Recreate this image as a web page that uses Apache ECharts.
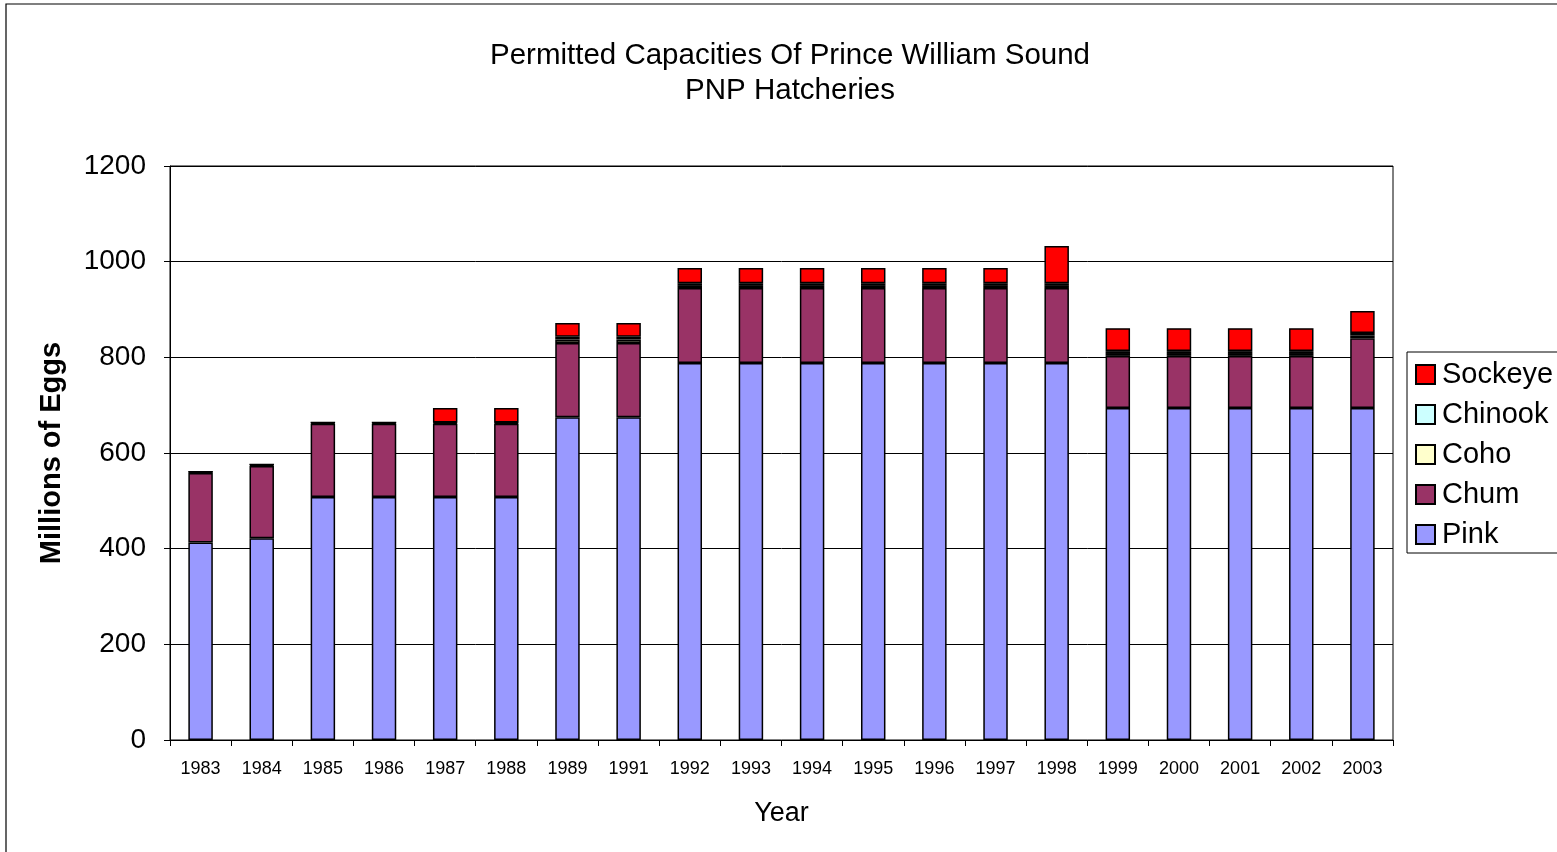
<!DOCTYPE html>
<html><head><meta charset="utf-8">
<script src="https://cdn.jsdelivr.net/npm/echarts@6/dist/echarts.min.js"></script>
<style>html,body{margin:0;padding:0;background:#fff}#c{width:1557px;height:852px}</style>
</head><body><div id="c"></div>
<script>
const years = ['1983','1984','1985','1986','1987','1988','1989','1991','1992','1993','1994','1995','1996','1997','1998','1999','2000','2001','2002','2003'];
const pink    = [413,422,508,508,508,508,675,675,788,788,788,788,788,788,788,694,694,694,694,694];
const chum    = [145,151,153,153,153,153,155,155,157,157,157,157,157,157,157,109,109,109,109,146];
const coho    = [2,2,2,2,2,2,7,7,6,6,6,6,6,6,6,6,6,6,6,6];
const chinook = [1,1,1,1,1,1,6,6,4,4,4,4,4,4,4,4,4,4,4,5];
const sockeye = [0,0,0,0,30,30,29,29,32,32,32,32,32,32,78,48,48,48,48,46];
const yTicks = [0,200,400,600,800,1000,1200];

const chart = echarts.init(document.getElementById('c'));
const mk = (name, data, color) => ({
  name, type:'bar', stack:'t', data, barWidth:'40%',
  itemStyle:{color, borderColor:'#000', borderWidth:1.5},
  emphasis:{disabled:true}
});
chart.setOption({
  animation:false,
  textStyle:{fontFamily:'Liberation Sans, Arial, sans-serif'},
  graphic:[{type:'rect', shape:{x:6,y:4,width:1560,height:860}, style:{fill:'none', stroke:'#000', lineWidth:1.2}, z:-1}],
  title:{text:'Permitted Capacities Of Prince William Sound\nPNP Hatcheries', left:785, textAlign:'center', top:33,
    textStyle:{fontSize:29.5, fontWeight:'normal', color:'#000', lineHeight:35, fontFamily:'Liberation Sans, Arial, sans-serif'}},
  grid:{left:170, right:164, top:166, bottom:112, show:true, borderColor:'#000', borderWidth:1},
  legend:{orient:'vertical', left:1407, top:352, data:['Sockeye','Chinook','Coho','Chum','Pink'],
    itemWidth:19, itemHeight:19, itemGap:11, padding:[8,10,4,8], borderColor:'#000', borderWidth:1,
    textStyle:{fontSize:29, color:'#000', padding:[0,0,0,2]}, icon:'rect'},
  xAxis:{type:'category', data:years, name:'Year', nameLocation:'middle', nameGap:60,
    nameTextStyle:{fontSize:27, color:'#000'},
    axisLine:{lineStyle:{color:'#000', width:1}}, axisTick:{show:true, alignWithLabel:false, length:6, lineStyle:{color:'#000'}},
    axisLabel:{fontSize:18, color:'#000', margin:20, interval:0}},
  yAxis:{type:'value', min:0, max:1200, interval:200, name:'Millions of Eggs', nameLocation:'middle', nameGap:104,
    nameTextStyle:{fontSize:29, fontWeight:'bold', color:'#000'},
    axisLine:{show:true, lineStyle:{color:'#000'}}, axisTick:{show:true, length:6, lineStyle:{color:'#000'}},
    axisLabel:{fontSize:28, color:'#000', margin:24, formatter:v=>yTicks.includes(v)?String(v):''},
    splitLine:{lineStyle:{color:'#000', width:1}}},
  series:[
    mk('Pink', pink, '#9999FF'),
    mk('Chum', chum, '#993366'),
    mk('Coho', coho, '#FFFFCC'),
    mk('Chinook', chinook, '#CCFFFF'),
    mk('Sockeye', sockeye, '#FF0000')
  ]
});
</script></body></html>
